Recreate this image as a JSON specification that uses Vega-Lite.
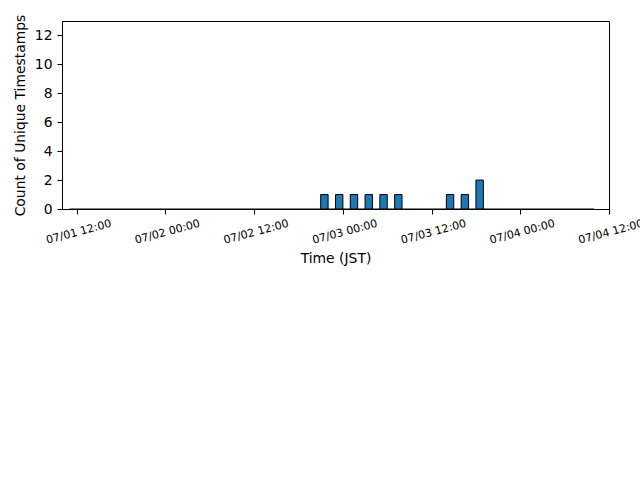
{
  "$schema": "https://vega.github.io/schema/vega-lite/v6.json",
  "width": 547,
  "height": 188,
  "autosize": {"type": "none"},
  "padding": {"left": 62, "top": 21, "right": 31, "bottom": 271},
  "background": "white",
  "config": {
    "font": "DejaVu Sans",
    "view": {"stroke": "black", "strokeWidth": 1},
    "axis": {
      "domainColor": "black",
      "tickColor": "black",
      "labelColor": "black",
      "titleColor": "black",
      "grid": false,
      "tickSize": 5,
      "tickWidth": 1,
      "domainWidth": 1,
      "titleFontWeight": "normal",
      "titleFontSize": 13.9,
      "labelFontSize": 13.9
    }
  },
  "datasets": {
    "bins": [
      {"start": "2024-07-02T21:00:00Z", "end": "2024-07-02T22:00:00Z", "count": 1},
      {"start": "2024-07-02T23:00:00Z", "end": "2024-07-03T00:00:00Z", "count": 1},
      {"start": "2024-07-03T01:00:00Z", "end": "2024-07-03T02:00:00Z", "count": 1},
      {"start": "2024-07-03T03:00:00Z", "end": "2024-07-03T04:00:00Z", "count": 1},
      {"start": "2024-07-03T05:00:00Z", "end": "2024-07-03T06:00:00Z", "count": 1},
      {"start": "2024-07-03T07:00:00Z", "end": "2024-07-03T08:00:00Z", "count": 1},
      {"start": "2024-07-03T14:00:00Z", "end": "2024-07-03T15:00:00Z", "count": 1},
      {"start": "2024-07-03T16:00:00Z", "end": "2024-07-03T17:00:00Z", "count": 1},
      {"start": "2024-07-03T18:00:00Z", "end": "2024-07-03T19:00:00Z", "count": 2}
    ],
    "baseline": [
      {"start": "2024-07-01T11:00:00Z", "end": "2024-07-04T10:00:00Z", "count": 0}
    ]
  },
  "encoding": {
    "x": {
      "field": "start",
      "type": "temporal",
      "scale": {
        "type": "utc",
        "domain": [
          {"year": 2024, "month": 7, "date": 1, "hours": 10, "utc": true},
          {"year": 2024, "month": 7, "date": 4, "hours": 12, "utc": true}
        ]
      },
      "axis": {
        "title": "Time (JST)",
        "values": [
          {"year": 2024, "month": 7, "date": 1, "hours": 12, "utc": true},
          {"year": 2024, "month": 7, "date": 2, "hours": 0, "utc": true},
          {"year": 2024, "month": 7, "date": 2, "hours": 12, "utc": true},
          {"year": 2024, "month": 7, "date": 3, "hours": 0, "utc": true},
          {"year": 2024, "month": 7, "date": 3, "hours": 12, "utc": true},
          {"year": 2024, "month": 7, "date": 4, "hours": 0, "utc": true},
          {"year": 2024, "month": 7, "date": 4, "hours": 12, "utc": true}
        ],
        "format": "%m/%d %H:%M",
        "labelFontSize": 11,
        "labelAngle": -15,
        "labelAlign": "center",
        "labelBaseline": "top",
        "labelPadding": 12,
        "labelOverlap": false,
        "labelBound": false,
        "labelFlush": false,
        "titlePadding": 6
      }
    },
    "x2": {"field": "end"},
    "y": {
      "field": "count",
      "type": "quantitative",
      "scale": {"domain": [0, 13], "nice": false},
      "axis": {
        "title": "Count of Unique Timestamps",
        "values": [0, 2, 4, 6, 8, 10, 12],
        "labelPadding": 5,
        "titlePadding": 7
      }
    }
  },
  "layer": [
    {
      "data": {"name": "baseline"},
      "mark": {"type": "rule", "color": "black", "strokeWidth": 1}
    },
    {
      "data": {"name": "bins"},
      "mark": {"type": "bar", "fill": "#1f77b4", "stroke": "black", "strokeWidth": 1},
      "encoding": {
        "y2": {"datum": 0}
      }
    }
  ]
}
